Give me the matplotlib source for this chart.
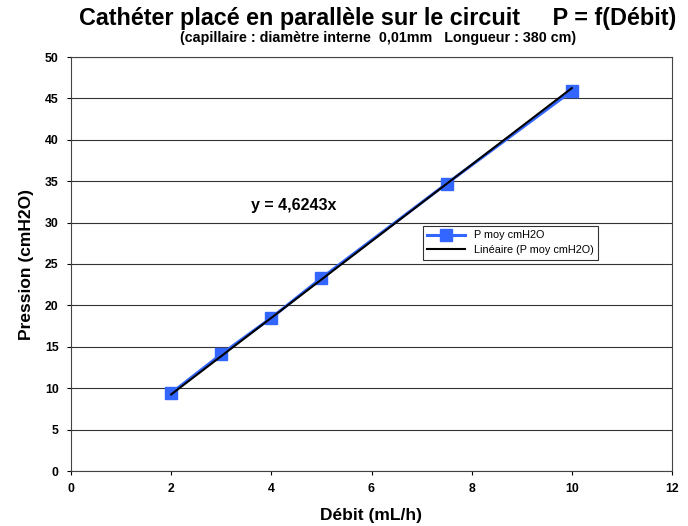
import matplotlib
matplotlib.use("Agg")
import matplotlib.pyplot as plt
import numpy as np

plt.rcParams['font.family'] = ['Liberation Sans', 'DejaVu Sans']

# Measured flow (mL/h) and mean pressure (cmH2O)
debit = [2, 3, 4, 5, 7.5, 10]
pression = [9.4, 14.1, 18.5, 23.3, 34.7, 45.9]
slope = 4.6243

x_ticks = [0, 2, 4, 6, 8, 10, 12]
y_ticks = [0, 5, 10, 15, 20, 25, 30, 35, 40, 45, 50]

fig = plt.figure(figsize=(6.88, 5.26), dpi=100)
ax = fig.add_axes([71/688, 55/526, (672-71)/688, (471-57)/526])

ax.set_xlim(0, 12)
ax.set_ylim(0, 50)
ax.set_xticks(x_ticks)
ax.set_yticks(y_ticks)
for t in ax.get_xticklabels() + ax.get_yticklabels():
    t.set_fontweight('bold')
ax.tick_params(labelsize=8.8, length=3, width=0.8, direction='out', pad=6)
ax.yaxis.grid(True, color='#333333', linewidth=0.8)
ax.set_axisbelow(True)
for s in ax.spines.values():
    s.set_color('#444444')
    s.set_linewidth(0.8)

ax.plot(debit, pression, color='#3366FF', linewidth=2.2, marker='s',
        markersize=8, markerfacecolor='#3366FF', markeredgecolor='#3366FF',
        label='P moy cmH2O', zorder=3)
xf = np.array([debit[0], debit[-1]])
ax.plot(xf, slope * xf, color='black', linewidth=1.5,
        label='Linéaire (P moy cmH2O)', zorder=4)

ax.text(3.6, 32.1, 'y = 4,6243x', fontsize=11.5, fontweight='bold', va='center')

leg = ax.legend(loc='upper left', bbox_to_anchor=((423-71)/601, (471-226)/414),
                fontsize=7.8, frameon=True, fancybox=False, borderpad=0.4,
                handlelength=3.5, labelspacing=0.45, borderaxespad=0)
leg.get_frame().set_edgecolor('black')
leg.get_frame().set_linewidth(0.8)

ax.set_xlabel('Débit (mL/h)', fontsize=12.5, fontweight='bold', labelpad=9)
ax.set_ylabel('Pression (cmH2O)', fontsize=12.5, fontweight='bold', labelpad=8)

fig.text(378/688, 1 - 18/526, 'Cathéter placé en parallèle sur le circuit     P = f(Débit)',
         ha='center', va='center', fontsize=16.8, fontweight='bold')
fig.text(378/688, 1 - 38/526, '(capillaire : diamètre interne  0,01mm   Longueur : 380 cm)',
         ha='center', va='center', fontsize=10.3, fontweight='bold')

fig.savefig('out.png', dpi=100)
